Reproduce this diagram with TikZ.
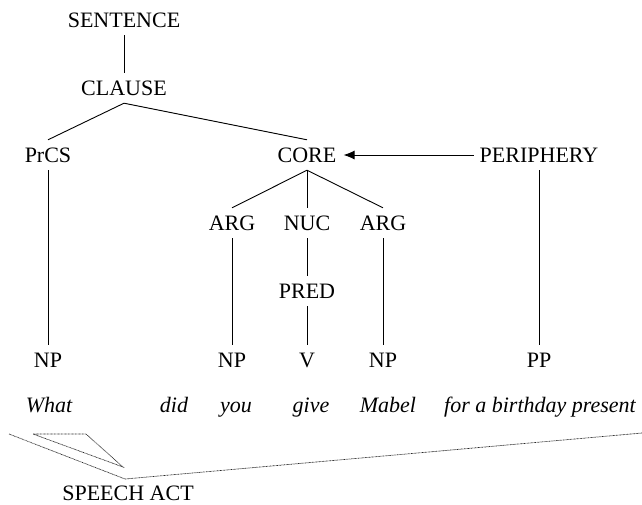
\documentclass[tikz,border=0pt]{standalone}
\usepackage{fontspec}
\setmainfont{Liberation Serif}
\usetikzlibrary{arrows.meta}
\begin{document}
\begin{tikzpicture}[x=1pt,y=-1pt,
  every node/.style={font=\fontsize{22}{26}\selectfont},
  cat/.style={text height=15pt,text depth=0pt,inner xsep=0pt,inner ysep=7.5pt,anchor=center},
  word/.style={font=\fontsize{22}{26}\selectfont\itshape,anchor=base,inner sep=0pt},
  branch/.style={line width=0.9pt},
  dots/.style={line width=0.7pt,black!85,dash pattern=on 0.8pt off 0.6pt}]
\useasboundingbox (0,0) rectangle (642,504);

% constituent nodes
\node[cat] (sent)  at (124,20)  {SENTENCE};
\node[cat] (clause) at (124,88) {CLAUSE};
\node[cat] (prcs)  at (48,155)  {PrCS};
\node[cat] (core)  at (307,155) {CORE};
\node[cat] (peri)  at (539,155) {PERIPHERY};
\node[cat] (arg1)  at (232,223) {ARG};
\node[cat] (nuc)   at (307,223) {NUC};
\node[cat] (arg2)  at (383,223) {ARG};
\node[cat] (pred)  at (307,291) {PRED};
\node[cat] (np0)   at (48,360)  {NP};
\node[cat] (np1)   at (232,360) {NP};
\node[cat] (v)     at (307,360) {V};
\node[cat] (np2)   at (383,360) {NP};
\node[cat] (pp)    at (539,360) {PP};

% words
\node[word] (w1) at (49,412)  {What};
\node[word] (w2) at (174,412) {did};
\node[word] (w3) at (236,412) {you};
\node[word] (w4) at (311,412) {give};
\node[word] (w5) at (388,412) {Mabel};
\node[word] (w6) at (540,412) {for a birthday present};

% branches
\draw[branch] (sent.south) -- (clause.north);
\draw[branch] (clause.south) -- (prcs.north);
\draw[branch] (clause.south) -- (core.north);
\draw[branch] (core.south) -- (arg1.north);
\draw[branch] (core.south) -- (nuc.north);
\draw[branch] (core.south) -- (arg2.north);
\draw[branch] (nuc.south) -- (pred.north);
\draw[branch] (pred.south) -- (v.north);
\draw[branch] (arg1.south) -- (np1.north);
\draw[branch] (arg2.south) -- (np2.north);
\draw[branch] (prcs.south) -- (np0.north);
\draw[branch] (peri.south) -- (pp.north);
\draw[branch,-{Latex[length=11pt,width=9pt]}] ([xshift=-6pt]peri.west) -- ([xshift=7pt]core.east);

% speech act operator
\node[cat,inner ysep=0pt] (sa) at (128,493) {SPEECH ACT};
\coordinate (s0) at (9,434);
\coordinate (tl) at (33,434);
\coordinate (tr) at (86,434);
\coordinate (ap) at (123,467);
\coordinate (vx) at (125,479);
\coordinate (se) at (642,433);
\draw[dots] (s0) -- (vx) -- (se);
\draw[dots] (tl) -- (tr) -- (ap) -- cycle;
\end{tikzpicture}
\end{document}
